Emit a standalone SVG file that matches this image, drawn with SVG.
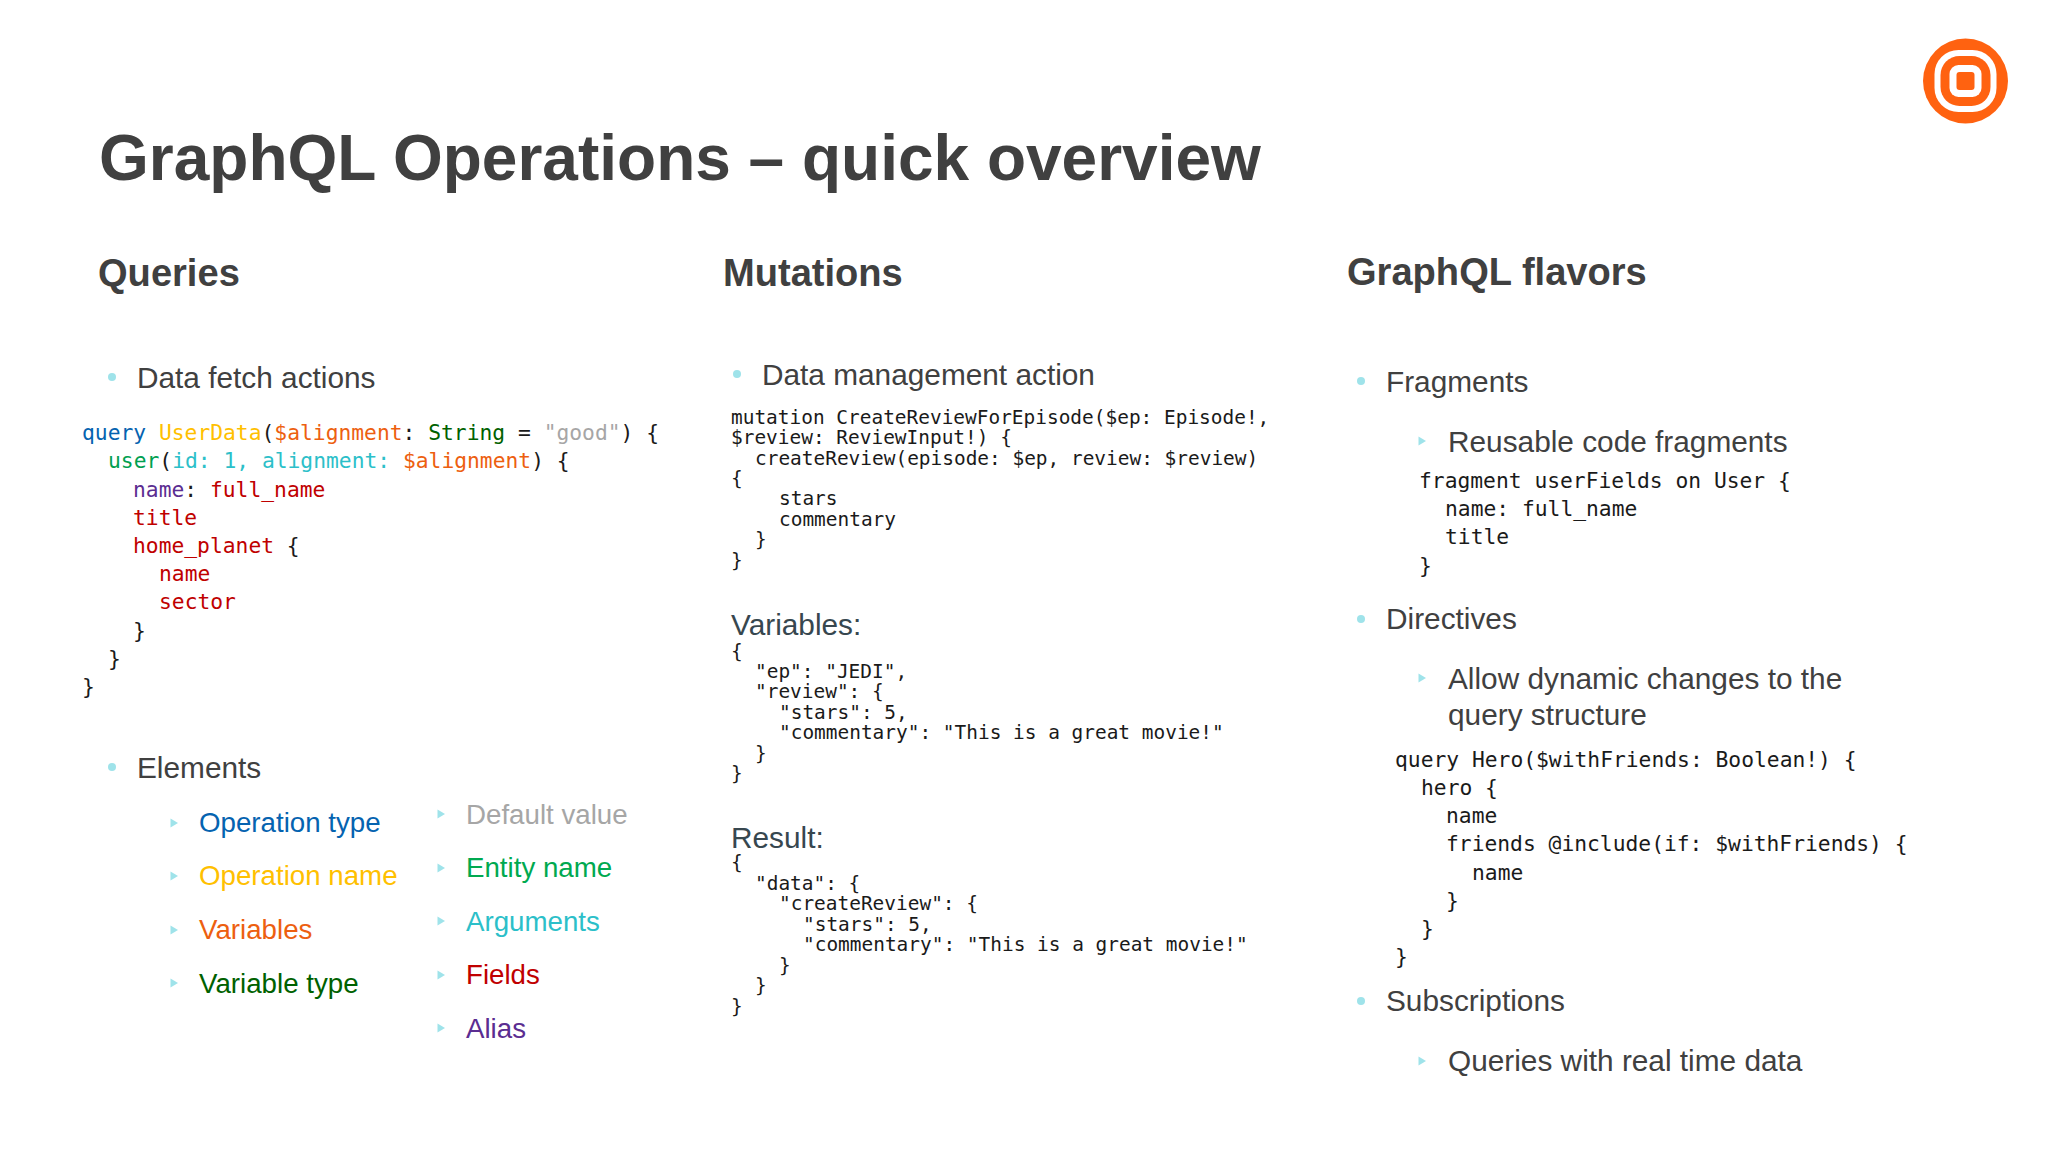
<svg xmlns="http://www.w3.org/2000/svg" width="2048" height="1152" viewBox="0 0 2048 1152">
<style>
text{font-family:"Liberation Sans",Arial,sans-serif;fill:#404040}
.t{font-size:64px;font-weight:700}
.h{font-size:38.1px;font-weight:700}
.b{font-size:29.8px}
.e{font-size:27.7px}
.c,.m{font-family:"DejaVu Sans Mono","Liberation Mono",monospace;fill:#1a1a1a}
.c{font-size:21.3px}
.m{font-size:19.45px}
.dot{fill:#9fe3ea}
.tri{fill:#9fe3ea}
</style>
<defs><path id="tr" d="M-3.5-4.5L4 0L-3.5 4.5Z"/></defs>
<rect width="2048" height="1152" fill="#fff"/>
<g id="logo">
<circle cx="1965.5" cy="81" r="42.5" fill="#ff6210"/>
<rect x="1934.5" y="50" width="62" height="62" rx="24" fill="#fff"/>
<rect x="1940.5" y="56" width="50" height="50" rx="19" fill="#ff6210"/>
<rect x="1949.5" y="65" width="32" height="32" rx="9" fill="#fff"/>
<rect x="1956.5" y="72" width="18" height="18" rx="3" fill="#ff6210"/>
</g>
<text id="title" class="t" x="99" y="180">GraphQL Operations – quick overview</text>
<g id="queries">
<text class="h" x="98" y="286">Queries</text>
<circle class="dot" cx="112" cy="377" r="4"/>
<text class="b" x="137" y="388">Data fetch actions</text>
<g class="code">
<text class="c" x="82" y="440"><tspan fill="#0563b0">query</tspan> <tspan fill="#ffc000">UserData</tspan>(<tspan fill="#ed5f10">$alignment</tspan>: <tspan fill="#006100">String</tspan> = <tspan fill="#a6a6a6">"good"</tspan>) {</text>
<text class="c" x="108" y="468"><tspan fill="#00a050">user</tspan>(<tspan fill="#2cbfc9">id: 1, alignment:</tspan> <tspan fill="#ed5f10">$alignment</tspan>) {</text>
<text class="c" x="133" y="497"><tspan fill="#5b2d91">name</tspan>: <tspan fill="#c00000">full_name</tspan></text>
<text class="c" x="133" y="525" style="fill:#c00000">title</text>
<text class="c" x="133" y="553"><tspan fill="#c00000">home_planet</tspan> {</text>
<text class="c" x="159" y="581" style="fill:#c00000">name</text>
<text class="c" x="159" y="609" style="fill:#c00000">sector</text>
<text class="c" x="133" y="638">}</text>
<text class="c" x="108" y="666">}</text>
<text class="c" x="82" y="694">}</text>
</g>
<circle class="dot" cx="112" cy="767" r="4"/>
<text class="b" x="137" y="778">Elements</text>
<use class="tri" href="#tr" x="174" y="823"/>
<use class="tri" href="#tr" x="174" y="876"/>
<use class="tri" href="#tr" x="174" y="930"/>
<use class="tri" href="#tr" x="174" y="983"/>
<text class="e" x="199" y="832" style="fill:#0563b0">Operation type</text>
<text class="e" x="199" y="885" style="fill:#ffc000">Operation name</text>
<text class="e" x="199" y="939" style="fill:#ed5f10">Variables</text>
<text class="e" x="199" y="993" style="fill:#006100">Variable type</text>
<use class="tri" href="#tr" x="441" y="814"/>
<use class="tri" href="#tr" x="441" y="868"/>
<use class="tri" href="#tr" x="441" y="921"/>
<use class="tri" href="#tr" x="441" y="975"/>
<use class="tri" href="#tr" x="441" y="1028"/>
<text class="e" x="466" y="824" style="fill:#a6a6a6">Default value</text>
<text class="e" x="466" y="877" style="fill:#00a950">Entity name</text>
<text class="e" x="466" y="931" style="fill:#2cbfc9">Arguments</text>
<text class="e" x="466" y="984" style="fill:#c00000">Fields</text>
<text class="e" x="466" y="1038" style="fill:#5b2d91">Alias</text>
</g>
<g id="mutations">
<text class="h" x="723" y="286">Mutations</text>
<circle class="dot" cx="737" cy="374" r="4"/>
<text class="b" x="762" y="385">Data management action</text>
<g class="code">
<text class="m" x="731" y="424">mutation CreateReviewForEpisode($ep: Episode!,</text>
<text class="m" x="731" y="444">$review: ReviewInput!) {</text>
<text class="m" x="755" y="465">createReview(episode: $ep, review: $review)</text>
<text class="m" x="731" y="485">{</text>
<text class="m" x="779" y="505">stars</text>
<text class="m" x="779" y="526">commentary</text>
<text class="m" x="755" y="546">}</text>
<text class="m" x="731" y="567">}</text>
</g>
<text class="b" x="731" y="635" style="fill:#37474f">Variables:</text>
<g class="code">
<text class="m" x="731" y="658">{</text>
<text class="m" x="755" y="678">"ep": "JEDI",</text>
<text class="m" x="755" y="698">"review": {</text>
<text class="m" x="779" y="719">"stars": 5,</text>
<text class="m" x="779" y="739">"commentary": "This is a great movie!"</text>
<text class="m" x="755" y="760">}</text>
<text class="m" x="731" y="780">}</text>
</g>
<text class="b" x="731" y="848" style="fill:#37474f">Result:</text>
<g class="code">
<text class="m" x="731" y="869">{</text>
<text class="m" x="755" y="890">"data": {</text>
<text class="m" x="779" y="910">"createReview": {</text>
<text class="m" x="803" y="931">"stars": 5,</text>
<text class="m" x="803" y="951">"commentary": "This is a great movie!"</text>
<text class="m" x="779" y="972">}</text>
<text class="m" x="755" y="992">}</text>
<text class="m" x="731" y="1013">}</text>
</g>
</g>
<g id="flavors">
<text class="h" x="1347" y="285">GraphQL flavors</text>
<circle class="dot" cx="1361" cy="381" r="4"/>
<text class="b" x="1386" y="392">Fragments</text>
<use class="tri" href="#tr" x="1422" y="441"/>
<text class="b" x="1448" y="452">Reusable code fragments</text>
<g class="code">
<text class="c" x="1419" y="488">fragment userFields on User {</text>
<text class="c" x="1445" y="516">name: full_name</text>
<text class="c" x="1445" y="544">title</text>
<text class="c" x="1419" y="573">}</text>
</g>
<circle class="dot" cx="1361" cy="619" r="4"/>
<text class="b" x="1386" y="629">Directives</text>
<use class="tri" href="#tr" x="1422" y="678"/>
<text class="b" x="1448" y="689">Allow dynamic changes to the</text>
<text class="b" x="1448" y="725">query structure</text>
<g class="code">
<text class="c" x="1395" y="767">query Hero($withFriends: Boolean!) {</text>
<text class="c" x="1421" y="795">hero {</text>
<text class="c" x="1446" y="823">name</text>
<text class="c" x="1446" y="851">friends @include(if: $withFriends) {</text>
<text class="c" x="1472" y="880">name</text>
<text class="c" x="1446" y="908">}</text>
<text class="c" x="1421" y="936">}</text>
<text class="c" x="1395" y="964">}</text>
</g>
<circle class="dot" cx="1361" cy="1001" r="4"/>
<text class="b" x="1386" y="1011">Subscriptions</text>
<use class="tri" href="#tr" x="1422" y="1061"/>
<text class="b" x="1448" y="1071">Queries with real time data</text>
</g>
</svg>
